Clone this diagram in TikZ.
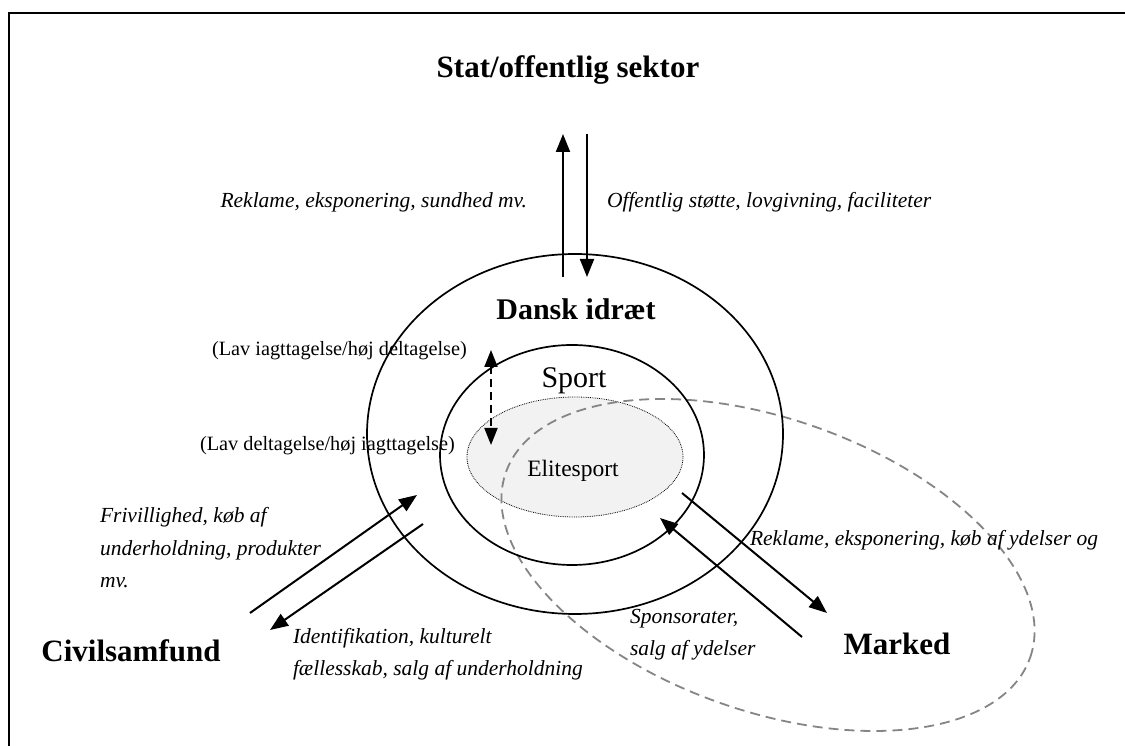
\documentclass[tikz,border=0pt]{standalone}
\usepackage{fontspec}
\setmainfont{Liberation Serif}
\usepackage{tikz}
\usetikzlibrary{arrows.meta,positioning}
\definecolor{Elitefill}{HTML}{F2F2F2}
\definecolor{Marketline}{HTML}{858585}
\tikzset{
every node/.style={inner sep=0pt,outer sep=0pt},
head/.style= {font=\fontsize{31}{37}\selectfont\bfseries,anchor=base},
lbl/.style= {font=\fontsize{21.5}{32.5}\selectfont\itshape,align=left,anchor=base west},
note/.style= {font=\fontsize{20.3}{24}\selectfont,anchor=base west},
ring/.style= {line width=1.7pt},
flow/.style= {line width=2pt,-{Triangle[length=18pt,width=14pt]}},
}

\begin{document}
\begin{tikzpicture}[x=1pt,y=1pt]
\useasboundingbox (0,0) rectangle (1125,746);
\draw[line width=2.5pt] (9,0) -- (9,733) -- (1125,733);

\fill[Elitefill] (575,289) ellipse [x radius=108, y radius=60];
\draw[line width=0.8pt,densely dotted] (575,289) ellipse [x radius=108, y radius=60];
\draw[Marketline,line width=1.8pt,dash pattern=on 10pt off 6pt] (768,181) ellipse [x radius=278, y radius=146, rotate=-19.5];
\draw[ring] (575,312) ellipse [x radius=208, y radius=180];
\draw[ring] (572,291) ellipse [x radius=132, y radius=110];

\node[head] (stat) at (568,668) {Stat/offentlig sektor};
\node[head,font=\fontsize{30}{36}\selectfont\bfseries] (idraet) at (576,426) {Dansk idræt};
\node[anchor=base,font=\fontsize{30}{36}\selectfont] (sport) at (574,358) {Sport};
\node[anchor=base,font=\fontsize{23.5}{28}\selectfont] (elite) at (573,269) {Elitesport};
\node[head] (civil) at (131,84) {Civilsamfund};
\node[head] (marked) at (897,91) {Marked};

\node[lbl,anchor=base east] (statud) at (527,538) {Reklame, eksponering, sundhed mv.};
\node[lbl] (statind) at (607,538) {Offentlig støtte, lovgivning, faciliteter};
\node[note] (lavi) at (212,390) {(Lav iagttagelse/høj deltagelse)};
\node[note] (lavd) at (200,295) {(Lav deltagelse/høj iagttagelse)};
\node[lbl] (civind) at (100,158) {Frivillighed, køb af\\underholdning, produkter\\mv.};
\node[lbl] (civud) at (293,70) {Identifikation, kulturelt\\fællesskab, salg af underholdning};
\node[lbl] (markind) at (630,90) {Sponsorater,\\salg af ydelser};
\node[lbl] (markud) at (750,200) {Reklame, eksponering, køb af ydelser og};

\coordinate (s1) at (563,469);
\coordinate (s2) at (563,612);
\coordinate (s3) at (587,612);
\coordinate (s4) at (587,469);
\coordinate (d1) at (491,396);
\coordinate (d2) at (491,301);
\coordinate (c1) at (250,133);
\coordinate (c2) at (417,251);
\coordinate (c3) at (423,222);
\coordinate (c4) at (270,116);
\coordinate (m1) at (682,253);
\coordinate (m2) at (827,133);
\coordinate (m3) at (802,109);
\coordinate (m4) at (660,228);

\draw[flow] (s1) -- (s2);
\draw[flow] (s3) -- (s4);
\draw[line width=2pt,dash pattern=on 8pt off 5pt,{Triangle[length=17pt,width=13pt]}-{Triangle[length=17pt,width=13pt]}] (d1) -- (d2);
\draw[flow] (c1) -- (c2);
\draw[flow] (c3) -- (c4);
\draw[flow] (m1) -- (m2);
\draw[flow] (m3) -- (m4);
\end{tikzpicture}
\end{document}
